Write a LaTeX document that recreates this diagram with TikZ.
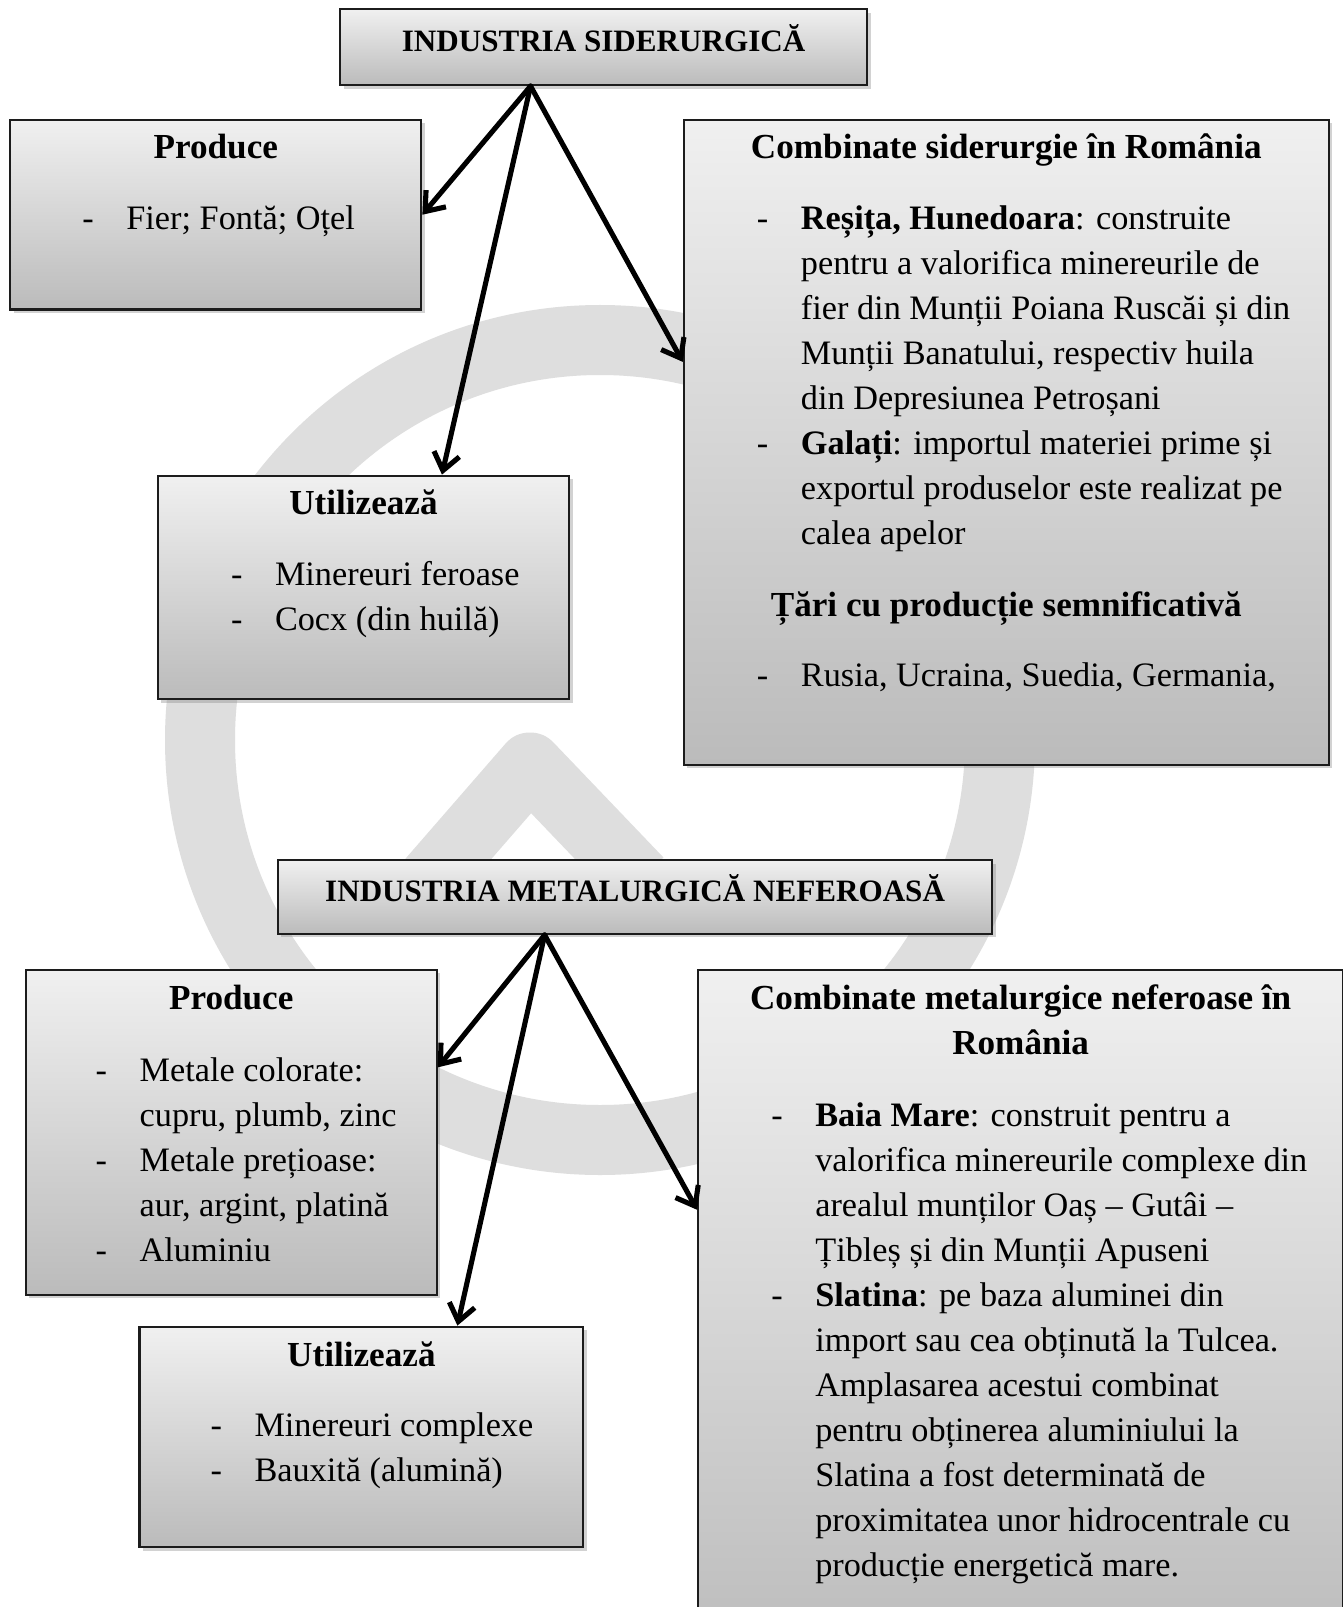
\documentclass[tikz,border=0pt]{standalone}
\usepackage{fontspec}
\setmainfont{Liberation Serif}
\usetikzlibrary{arrows.meta, positioning, calc, shadows}
\definecolor{boxtop}{HTML}{F0F0F0}
\definecolor{boxbot}{HTML}{BBBBBB}
\definecolor{wmark}{HTML}{DEDEDE}
\definecolor{edge}{HTML}{1C1C1C}

\newcommand{\itm}{\makebox[0.88cm][l]{-}}
\newcommand{\ind}{\hspace*{0.88cm}}

\begin{document}
\begin{tikzpicture}[>={Straight Barb[length=3.4mm, width=5.2mm]},
  panel/.style={draw=edge, line width=1.2pt, top color=boxtop, bottom color=boxbot,
    drop shadow={shadow xshift=0.07cm, shadow yshift=-0.07cm, opacity=0.35},
    inner sep=0pt, anchor=north west},
  title/.style={panel, font=\fontsize{17.7}{22}\selectfont\bfseries,
    text height=0.84cm, text depth=0.68cm},
  head/.style={font=\fontsize{20}{25.6}\selectfont\bfseries, anchor=base, inner sep=0pt},
  items/.style={font=\fontsize{19.5}{25.6}\selectfont, anchor=base west, inner sep=0pt},
  link/.style={->, line width=2.9pt, line cap=round, line join=round}]

% Page
\useasboundingbox (0,0) rectangle (26.84,-32.14);
\fill[white] (0,0) rectangle (26.84,-32.14);

% Watermark (drawn first, behind the boxes)
\draw[wmark, line width=1.4cm] (12.0,-14.8) circle (8.0);
\draw[wmark, line width=1.3cm, line join=round] (8.6,-17.6) -- (10.6,-15.3) -- (12.8,-17.6);

% --- Industria siderurgica ---
\node[title, minimum width=10.54cm] (sid) at (6.78,-0.16) {INDUSTRIA SIDERURGICĂ};

\node[panel, minimum width=8.22cm, minimum height=3.79cm] (prod1) at (0.185,-2.378) {};
\node[head] (prod1h) at ([yshift=-0.80cm]prod1.north) {Produce};
\node[items] (prod1l) at ($(prod1.north west)+(1.456,-2.214)$)
  {\begin{tabular}[t]{@{}l@{}}\itm Fier; Fontă; Oțel\end{tabular}};

\node[panel, minimum width=12.897cm, minimum height=12.897cm] (comb1) at (13.656,-2.378) {};
\node[head] (comb1h) at ([yshift=-0.80cm]comb1.north) {Combinate siderurgie în România};
\node[items] (comb1l) at ($(comb1.north west)+(1.476,-2.214)$)
  {\begin{tabular}[t]{@{}l@{}}
   \itm\textbf{Reșița, Hunedoara}: construite\\
   \ind pentru a valorifica minereurile de\\
   \ind fier din Munții Poiana Ruscăi și din\\
   \ind Munții Banatului, respectiv huila\\
   \ind din Depresiunea Petroșani\\
   \itm\textbf{Galați}: importul materiei prime și\\
   \ind exportul produselor este realizat pe\\
   \ind calea apelor
   \end{tabular}};
\node[head] (tarih) at ([yshift=-9.944cm]comb1.north) {Țări cu producție semnificativă};
\node[items] (taril) at ($(comb1.north west)+(1.476,-11.36)$)
  {\begin{tabular}[t]{@{}l@{}}\itm Rusia, Ucraina, Suedia, Germania,\end{tabular}};

\node[panel, minimum width=8.222cm, minimum height=4.47cm] (util1) at (3.137,-9.493) {};
\node[head] (util1h) at ([yshift=-0.80cm]util1.north) {Utilizează};
\node[items] (util1l) at ($(util1.north west)+(1.476,-2.214)$)
  {\begin{tabular}[t]{@{}l@{}}
   \itm Minereuri feroase\\
   \itm Cocx (din huilă)
   \end{tabular}};

% arrows, top group
\coordinate (sidfoot) at ([xshift=-1.46cm]sid.south);
\draw[link] (sidfoot) -- (prod1.east);
\draw[link] (sidfoot) -- ([xshift=1.57cm]util1.north);
\draw[link] (sidfoot) -- ([yshift=1.61cm]comb1.west);

% --- Industria metalurgica neferoasa ---
\node[title, minimum width=14.291cm, text height=0.836cm, text depth=0.64cm]
  (nef) at (5.536,-17.182) {INDUSTRIA METALURGICĂ NEFEROASĂ};

\node[panel, minimum width=8.222cm, minimum height=6.5cm] (prod2) at (0.492,-19.376) {};
\node[head] (prod2h) at ([yshift=-0.82cm]prod2.north) {Produce};
\node[items] (prod2l) at ($(prod2.north west)+(1.415,-2.255)$)
  {\begin{tabular}[t]{@{}l@{}}
   \itm Metale colorate:\\
   \ind cupru, plumb, zinc\\
   \itm Metale prețioase:\\
   \ind aur, argint, platină\\
   \itm Aluminiu
   \end{tabular}};

\node[panel, minimum width=12.897cm, minimum height=14cm] (comb2) at (13.943,-19.376) {};
\node[head] (comb2h) at ([yshift=-0.82cm]comb2.north)
  {\begin{tabular}[t]{@{}c@{}}Combinate metalurgice neferoase în\\ România\end{tabular}};
\node[items] (comb2l) at ($(comb2.north west)+(1.476,-3.158)$)
  {\begin{tabular}[t]{@{}l@{}}
   \itm\textbf{Baia Mare}: construit pentru a\\
   \ind valorifica minereurile complexe din\\
   \ind arealul munților Oaș – Gutâi –\\
   \ind Țibleș și din Munții Apuseni\\
   \itm\textbf{Slatina}: pe baza aluminei din\\
   \ind import sau cea obținută la Tulcea.\\
   \ind Amplasarea acestui combinat\\
   \ind pentru obținerea aluminiului la\\
   \ind Slatina a fost determinată de\\
   \ind proximitatea unor hidrocentrale cu\\
   \ind producție energetică mare.
   \end{tabular}};

\node[panel, minimum width=8.878cm, minimum height=4.408cm] (util2) at (2.768,-26.512) {};
\node[head] (util2h) at ([yshift=-0.82cm]util2.north) {Utilizează};
\node[items] (util2l) at ($(util2.north west)+(1.435,-2.214)$)
  {\begin{tabular}[t]{@{}l@{}}
   \itm Minereuri complexe\\
   \itm Bauxită (alumină)
   \end{tabular}};

% arrows, bottom group
\coordinate (neffoot) at ([xshift=-1.81cm]nef.south);
\draw[link] (neffoot) -- ([yshift=1.30cm]prod2.east);
\draw[link] (neffoot) -- ([xshift=1.92cm]util2.north);
\draw[link] (neffoot) -- ([yshift=-4.82cm]comb2.north west);

\end{tikzpicture}
\end{document}
